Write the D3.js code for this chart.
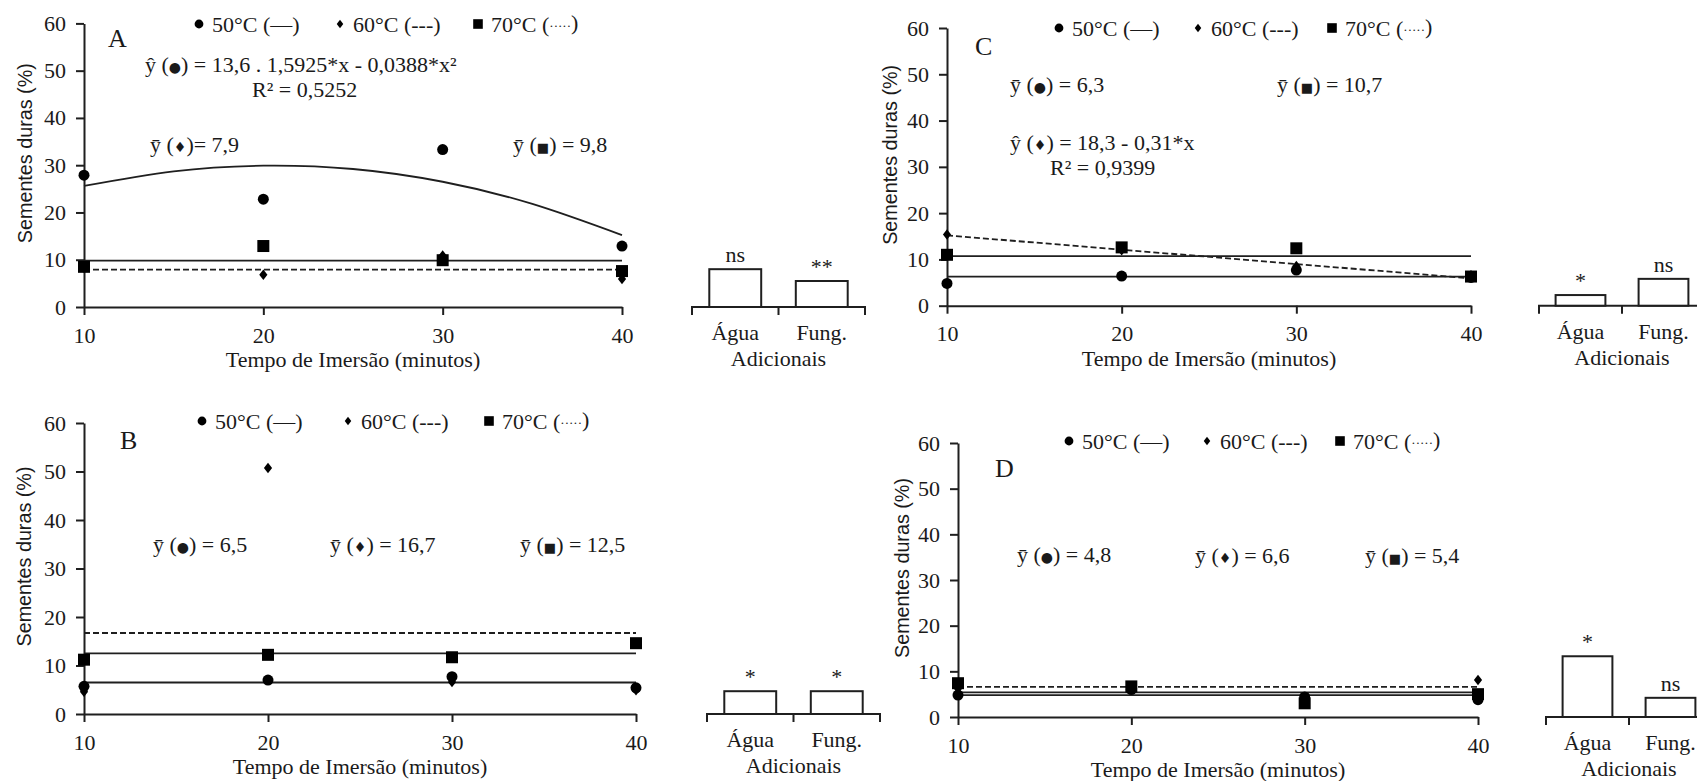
<!DOCTYPE html>
<html>
<head>
<meta charset="utf-8">
<script src="https://cdn.jsdelivr.net/npm/d3@7"></script>
<style>
  body { margin: 0; background: #fff; }
  text { font-family: "Liberation Serif", "Times New Roman", serif; fill: #1a1a1a; font-size: 22px; }
  .ytitle { font-family: "Liberation Sans Narrow", "Arial Narrow", "Liberation Sans", sans-serif; font-size: 20px; }
  .tick text { font-size: 22px; }
</style>
</head>
<body>
<svg id="chart" width="1697" height="781"></svg>
<script>
// shared categories / ticks
const times = [10, 20, 30, 40];
const yTicks = [0, 10, 20, 30, 40, 50, 60];
const legendLabels = ["50°C (—)", "60°C (---)", "70°C (·····)"];
const extraCats = ["Água", "Fung."];

// panel A
const a50 = [27.9, 22.8, 33.3, 12.9];
const a60 = [8.3, 6.8, 10.9, 5.9];
const a70 = [8.5, 12.9, 9.9, 7.6];
const aFitX = [10, 15, 20, 25, 30, 35, 40];
const aFit50 = [25.6, 28.7, 29.9, 29.2, 26.5, 21.8, 15.2];
const aMeans = [7.9, 9.8];          // 60°C, 70°C
const aExtra = [8.0, 5.5];
const aSig = ["ns", "**"];
const aNotes = ["A", "ŷ (●) = 13,6 . 1,5925*x - 0,0388*x²", "R² = 0,5252", "ȳ (♦)= 7,9", "ȳ (■) = 9,8"];

// panel B
const b50 = [5.7, 7.0, 7.7, 5.4];
const b60 = [4.6, 50.7, 6.6, 4.9];
const b70 = [11.2, 12.2, 11.7, 14.6];
const bMeans = [6.5, 16.7, 12.5];   // 50°C, 60°C, 70°C
const bExtra = [4.7, 4.7];
const bSig = ["*", "*"];
const bNotes = ["B", "ȳ (●) = 6,5", "ȳ (♦) = 16,7", "ȳ (■) = 12,5"];

// panel C
const c50 = [4.8, 6.4, 7.7, 6.1];
const c60 = [15.4, 12.0, 8.6, 6.6];
const c70 = [11.0, 12.6, 12.4, 6.3];
const cFitX = [10, 40];
const cFit60 = [15.2, 5.9];
const cMeans = [6.3, 10.7];         // 50°C, 70°C
const cExtra = [2.3, 5.8];
const cSig = ["*", "ns"];
const cNotes = ["C", "ȳ (●) = 6,3", "ȳ (■) = 10,7", "ŷ (♦) = 18,3 - 0,31*x", "R² = 0,9399"];

// panel D
const d50 = [4.8, 6.0, 4.4, 3.8];
const d60 = [6.2, 6.4, 4.0, 8.1];
const d70 = [7.4, 6.7, 3.0, 5.0];
const dMeans = [4.8, 6.6, 5.4];     // 50°C, 60°C, 70°C
const dExtra = [13.3, 4.2];
const dSig = ["*", "ns"];
const dNotes = ["D", "ȳ (●) = 4,8", "ȳ (♦) = 6,6", "ȳ (■) = 5,4"];

const panels = [
  {
    series: [a50, a60, a70],
    fits: [{ xs: aFitX, ys: aFit50, dash: false }],
    means: [{ v: aMeans[0], dash: true }, { v: aMeans[1], dash: false }],
    extra: aExtra, sig: aSig, notes: aNotes,
    box: { x0: 84, x1: 622, yb: 307, yt: 23.4, bx0: 692, bx1: 865, titleX: 25 },
    legend: { xs: [199, 340, 478], y: 24 },
    notePos: [[108, 47], [145, 72], [252, 97], [150, 152], [513, 152]]
  },
  {
    series: [b50, b60, b70],
    fits: [],
    means: [{ v: bMeans[0], dash: false }, { v: bMeans[1], dash: true }, { v: bMeans[2], dash: false }],
    extra: bExtra, sig: bSig, notes: bNotes,
    box: { x0: 84, x1: 636, yb: 714, yt: 423, bx0: 707, bx1: 880, titleX: 24 },
    legend: { xs: [202, 348, 489], y: 421 },
    notePos: [[120, 449], [153, 552], [330, 552], [520, 552]]
  },
  {
    series: [c50, c60, c70],
    fits: [{ xs: cFitX, ys: cFit60, dash: true }],
    means: [{ v: cMeans[0], dash: false }, { v: cMeans[1], dash: false }],
    extra: cExtra, sig: cSig, notes: cNotes,
    box: { x0: 947, x1: 1471, yb: 305.7, yt: 28, bx0: 1539, bx1: 1705, titleX: 890 },
    legend: { xs: [1059, 1198, 1332], y: 28 },
    notePos: [[975, 55], [1010, 92], [1277, 92], [1010, 150], [1050, 175]]
  },
  {
    series: [d50, d60, d70],
    fits: [],
    means: [{ v: dMeans[0], dash: false }, { v: dMeans[1], dash: true }, { v: dMeans[2], dash: false }],
    extra: dExtra, sig: dSig, notes: dNotes,
    box: { x0: 958, x1: 1478, yb: 717, yt: 443, bx0: 1546, bx1: 1712, titleX: 902 },
    legend: { xs: [1069, 1207, 1340], y: 441 },
    notePos: [[995, 477], [1017, 562], [1195, 563], [1365, 563]]
  }
];

const svg = d3.select("#chart");
const ink = "#1f1f1f";

// marker shapes: circle, diamond, square
function marker(g, kind, cx, cy, scale) {
  const s = scale || 1;
  if (kind === 0) {
    g.append("circle").attr("cx", cx).attr("cy", cy).attr("r", 5.5 * s).attr("fill", "#000");
  } else if (kind === 1) {
    g.append("path")
      .attr("d", d3.symbol(d3.symbolDiamond, 44 * s * s)())
      .attr("transform", `translate(${cx},${cy}) scale(1.15,0.85)`)
      .attr("fill", "#000");
  } else {
    g.append("rect").attr("x", cx - 6 * s).attr("y", cy - 6 * s)
      .attr("width", 12 * s).attr("height", 12 * s).attr("fill", "#000");
  }
}

// text with small symbol glyphs inside
function richText(sel, str) {
  str.split(/([●♦■]|·····)/).forEach(part => {
    if (!part) return;
    const t = sel.append("tspan").text(part);
    if (/[●♦■]/.test(part)) {
      t.style("font-family", "DejaVu Sans").style("font-size", part === "■" ? "13px" : "14px");
    } else if (part === "·····") {
      t.style("font-size", "13px").attr("dy", -2);
      sel.append("tspan").attr("dy", 2).text("");
    }
  });
}

function drawPanel(p) {
  const b = p.box;
  const g = svg.append("g");
  const x = d3.scaleLinear().domain([10, 40]).range([b.x0, b.x1]);
  const y = d3.scaleLinear().domain([0, 60]).range([b.yb, b.yt]);

  // axes
  const ya = g.append("g").attr("transform", `translate(${b.x0},0)`)
    .call(d3.axisLeft(y).tickValues(yTicks).tickSize(8).tickSizeOuter(0).tickPadding(10));
  const xa = g.append("g").attr("transform", `translate(0,${b.yb})`)
    .call(d3.axisBottom(x).tickValues(times).tickSize(8).tickSizeOuter(0).tickPadding(12));
  [ya, xa].forEach(a => {
    a.attr("font-size", null).attr("font-family", null).attr("color", ink);
    a.selectAll("path, line").attr("stroke-width", 2);
  });

  g.append("text").attr("x", (b.x0 + b.x1) / 2).attr("y", b.yb + 60)
    .attr("text-anchor", "middle").text("Tempo de Imersão (minutos)");
  g.append("text").attr("class", "ytitle")
    .attr("transform", `translate(${b.titleX},${(b.yb + b.yt) / 2 - 12}) rotate(-90)`)
    .attr("text-anchor", "middle").attr("dominant-baseline", "central")
    .attr("textLength", 180).attr("lengthAdjust", "spacingAndGlyphs")
    .text("Sementes duras (%)");

  // mean lines and fitted curves
  p.means.forEach(m => {
    g.append("line").attr("x1", x(10)).attr("x2", x(40)).attr("y1", y(m.v)).attr("y2", y(m.v))
      .attr("stroke", ink).attr("stroke-width", 1.8)
      .attr("stroke-dasharray", m.dash ? "6,3" : null);
  });
  const line = d3.line().x(d => x(d[0])).y(d => y(d[1])).curve(d3.curveNatural);
  p.fits.forEach(f => {
    g.append("path").datum(f.xs.map((v, i) => [v, f.ys[i]])).attr("d", line)
      .attr("fill", "none").attr("stroke", ink).attr("stroke-width", 1.8)
      .attr("stroke-dasharray", f.dash ? "6,3" : null);
  });

  // points: squares, circles, diamonds
  [2, 0, 1].forEach(k => {
    p.series[k].forEach((v, i) => marker(g, k, x(times[i]), y(v)));
  });

  // legend
  legendLabels.forEach((lab, k) => {
    marker(g, k, p.legend.xs[k], p.legend.y, 0.8);
    const t = g.append("text").attr("x", p.legend.xs[k] + 13).attr("y", p.legend.y + 8);
    richText(t, lab);
  });

  // annotations
  p.notes.forEach((n, i) => {
    const t = g.append("text").attr("x", p.notePos[i][0]).attr("y", p.notePos[i][1]);
    if (i === 0) t.style("font-size", "26px").text(n);
    else richText(t, n);
  });

  // additional treatments bar chart
  const bx = d3.scaleBand().domain(extraCats).range([b.bx0, b.bx1]);
  const bw = bx.bandwidth();
  const yb = y(0);
  g.append("path")
    .attr("d", `M${b.bx0},${yb + 8}V${yb}H${b.bx1}V${yb + 8}M${bx(extraCats[1])},${yb}V${yb + 8}`)
    .attr("fill", "none").attr("stroke", ink).attr("stroke-width", 2);
  g.selectAll(".bar").data(p.extra).join("rect")
    .attr("x", (d, i) => bx(extraCats[i]) + bw * 0.2)
    .attr("width", bw * 0.6)
    .attr("y", d => y(d))
    .attr("height", d => yb - y(d))
    .attr("fill", "#fff").attr("stroke", ink).attr("stroke-width", 2);
  g.selectAll(".sig").data(p.sig).join("text")
    .attr("x", (d, i) => bx(extraCats[i]) + bw / 2)
    .attr("y", (d, i) => y(p.extra[i]) - 7)
    .attr("text-anchor", "middle").text(d => d);
  extraCats.forEach(c => {
    g.append("text").attr("x", bx(c) + bw / 2).attr("y", yb + 33)
      .attr("text-anchor", "middle").text(c);
  });
  g.append("text").attr("x", (b.bx0 + b.bx1) / 2).attr("y", yb + 59)
    .attr("text-anchor", "middle").text("Adicionais");
}

panels.forEach(drawPanel);
</script>
</body>
</html>
